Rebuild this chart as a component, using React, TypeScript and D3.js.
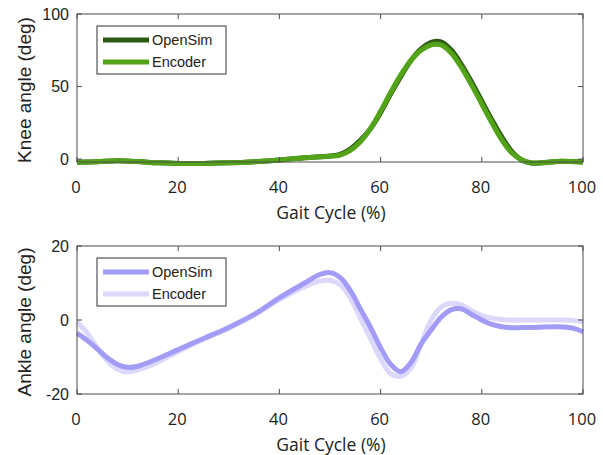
import React from 'react';
import * as d3 from 'd3';

const W = 603;
const H = 455;

// knee angle (deg) vs gait cycle (%)
const kneeGait = [0, 4, 8, 12, 16, 20, 25, 30, 35, 40, 45, 50, 52, 54, 56, 58, 60, 62, 64, 66, 68, 70, 71, 72, 74, 76, 78, 80, 82, 84, 86, 88, 90, 92, 95, 100];
const kneeOpenSim = [-2.2, -1.8, -1.2, -1.7, -2.6, -3, -3, -2.6, -1.8, -0.6, 1, 2.2, 3.3, 7, 13, 21, 32, 45, 57, 68, 76, 80.5, 81.3, 80.7, 75, 65, 53, 40, 27, 15, 5, -0.8, -2.8, -2.5, -1.6, -2];
const kneeEncoder = [-2.2, -1.8, -1.2, -1.7, -2.6, -3, -3, -2.6, -1.8, -0.6, 1, 2, 2.8, 6, 12, 21, 33, 46, 58, 68, 75, 78.8, 79.2, 78.6, 73, 63, 51, 38, 25, 13, 4, -0.8, -2.6, -2.5, -1.6, -2];

// ankle angle (deg) vs gait cycle (%)
const ankleGait = [0, 2, 4, 6, 8, 10, 12, 15, 20, 25, 30, 35, 40, 45, 48, 50, 52, 54, 56, 58, 60, 62, 64, 66, 68, 70, 72, 74, 76, 78, 80, 82, 85, 90, 95, 98, 100];
const ankleOpenSim = [-3.5, -5.5, -7.8, -10.2, -12, -12.8, -12.5, -11, -8, -5, -2, 1.5, 6, 10, 12.3, 12.8, 11.5, 8, 3, -2, -7.5, -12, -14, -11.5, -6.5, -2.7, 0.8, 2.8, 3, 1.5, 0, -1.2, -2, -2, -1.8, -2.2, -3.2];
const ankleEncoder = [-0.5, -3.5, -7.5, -11, -13.3, -14, -13.5, -12, -8.5, -5.2, -2.2, 1.3, 5.5, 9, 10.5, 10.7, 9.5, 6, 0.5, -5, -10.5, -14.5, -15.2, -13, -6.5, 0, 3.5, 4.5, 4, 2.5, 1.2, 0.5, 0, 0, 0, -0.1, -0.5];

const xTicks = [0, 20, 40, 60, 80, 100];

const panels = [
  {
    top: 14, bottom: 162, yDomain: [-2, 100], yTicks: [0, 50, 100], ylabel: 'Knee angle (deg)',
    gait: kneeGait, a: kneeOpenSim, b: kneeEncoder,
    colorA: '#2c5a12', colorB: '#52a318', drawAFirst: true,
  },
  {
    top: 246, bottom: 394, yDomain: [-20, 20], yTicks: [-20, 0, 20], ylabel: 'Ankle angle (deg)',
    gait: ankleGait, a: ankleOpenSim, b: ankleEncoder,
    colorA: '#a39cf7', colorB: '#dcd8fc', drawAFirst: false,
  },
];

const left = 77;
const right = 583;
const axisColor = '#4d4d4d';

const Panel = ({ p }: { p: any }) => {
  const x = d3.scaleLinear().domain([0, 100]).range([left, right]);
  const y = d3.scaleLinear().domain(p.yDomain).range([p.bottom, p.top]);
  const line = d3.line<number>()
    .x((_, i) => x(p.gait[i]))
    .y(d => y(d))
    .curve(d3.curveCatmullRom.alpha(0.5));

  const pathA = <path key="a" d={line(p.a) || ''} fill="none" stroke={p.colorA} strokeWidth={5} strokeLinejoin="round" />;
  const pathB = <path key="b" d={line(p.b) || ''} fill="none" stroke={p.colorB} strokeWidth={5} strokeLinejoin="round" />;

  const lx = 97, ly = p.top + 12;
  return (
    <g>
      {p.drawAFirst ? [pathA, pathB] : [pathB, pathA]}
      <rect x={left} y={p.top} width={right - left} height={p.bottom - p.top} fill="none" stroke={axisColor} strokeWidth={1} />
      {xTicks.map(t => (
        <g key={'x' + t}>
          <line x1={x(t)} x2={x(t)} y1={p.bottom} y2={p.bottom - 5} stroke={axisColor} />
          <line x1={x(t)} x2={x(t)} y1={p.top} y2={p.top + 5} stroke={axisColor} />
          <text x={x(t) - 1} y={p.bottom + 31} textAnchor="middle" fontFamily="'Open Sans', sans-serif" fontSize={16.5} fill="#222">{t}</text>
        </g>
      ))}
      {p.yTicks.map((t: number) => (
        <g key={'y' + t}>
          <line x1={left} x2={left + 5} y1={y(t)} y2={y(t)} stroke={axisColor} />
          <line x1={right} x2={right - 5} y1={y(t)} y2={y(t)} stroke={axisColor} />
          <text x={left - 8} y={y(t)} dy="0.35em" textAnchor="end" fontFamily="'Liberation Sans', Arial, sans-serif" fontSize={16} fill="#222">{t}</text>
        </g>
      ))}
      <text x={331} y={p.bottom + 57} textAnchor="middle" fontFamily="'Open Sans', sans-serif" fontSize={17.5} fill="#222">Gait Cycle (%)</text>
      <text transform={`translate(31,${(p.top + p.bottom) / 2 + 2}) rotate(-90)`} textAnchor="middle" fontFamily="'Liberation Sans', Arial, sans-serif" fontSize={19} fill="#222">{p.ylabel}</text>
      <rect x={lx} y={ly} width={129} height={48} fill="#fff" stroke="#333" strokeWidth={1} />
      <line x1={lx + 6} x2={lx + 52} y1={ly + 14} y2={ly + 14} stroke={p.colorA} strokeWidth={5} />
      <line x1={lx + 6} x2={lx + 52} y1={ly + 36} y2={ly + 36} stroke={p.colorB} strokeWidth={5} />
      <text x={lx + 55} y={ly + 14} dy="0.35em" fontFamily="'Liberation Sans', Arial, sans-serif" fontSize={14.5} fill="#222">OpenSim</text>
      <text x={lx + 55} y={ly + 36} dy="0.35em" fontFamily="'Liberation Sans', Arial, sans-serif" fontSize={14.5} fill="#222">Encoder</text>
    </g>
  );
};

export default function App() {
  return (
    <svg width={W} height={H} style={{ position: 'absolute', left: 0, top: 0, background: '#fff' }}>
      {panels.map((p, i) => <Panel key={i} p={p} />)}
    </svg>
  );
}
